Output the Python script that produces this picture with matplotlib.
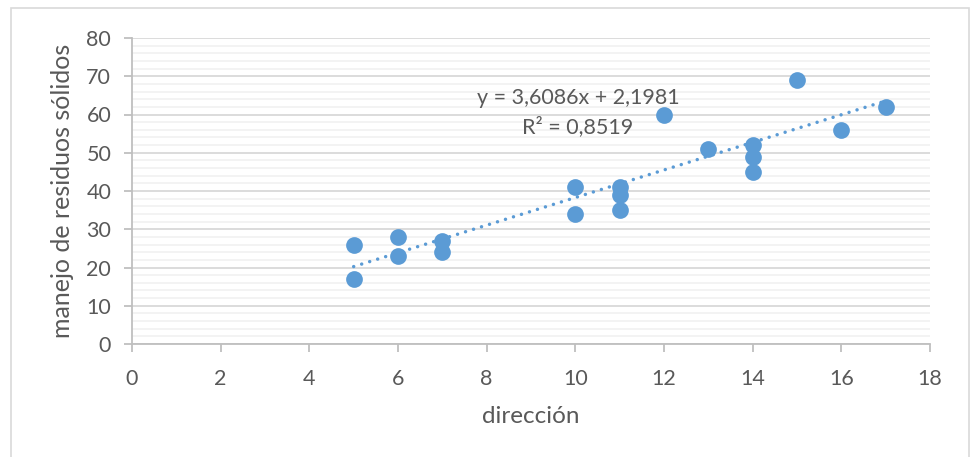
import numpy as np
import matplotlib.pyplot as plt
from matplotlib.patches import Rectangle

# Data
direccion = [5, 5, 6, 6, 7, 7, 10, 10, 11, 11, 11, 12, 13, 14, 14, 14, 15, 16, 17]
residuos = [26, 17, 28, 23, 27, 24, 41, 34, 41, 39, 35, 60, 51, 52, 49, 45, 69, 56, 62]

# Trendline as printed on the chart
slope = 3.6086
intercept = 2.1981
r2 = 0.8519

blue = '#5B9BD5'
grey_txt = '#595959'

plt.rcParams['font.family'] = ['Lato', 'DejaVu Sans']

fig = plt.figure(figsize=(9.71, 4.57), dpi=100)
ax = fig.add_axes([132 / 971, 1 - 344 / 457, 798 / 971, 306 / 457])

# chart border
fig.patches.append(Rectangle((11 / 971, -0.01), 958 / 971, 1 - 8 / 457 + 0.01,
                             transform=fig.transFigure, fill=False,
                             edgecolor='#D9D9D9', linewidth=1.2))

ax.scatter(direccion, residuos, s=145, color=blue, zorder=3, linewidths=0)

xs = np.array([min(direccion), max(direccion)])
ax.plot(xs, slope * xs + intercept, linestyle=(0, (0.01, 2.4)), color=blue,
        linewidth=2.5, zorder=2, dash_capstyle='round')

eq = 'y = {}x + {}\nR² = {}'.format(str(slope).replace('.', ','),
                                    str(intercept).replace('.', ','),
                                    str(r2).replace('.', ','))
ax.text(10.06, 60.5, eq, ha='center', va='center', fontsize=15.5,
        color=grey_txt, linespacing=1.45)

ax.set_xlim(0, 18)
ax.set_ylim(0, 80)
ax.set_xticks(range(0, 19, 2))
ax.set_yticks(range(0, 81, 10))
ax.set_yticks(range(0, 81, 2), minor=True)

ax.grid(axis='y', which='major', color='#D9D9D9', linewidth=1.3, zorder=0)
ax.grid(axis='y', which='minor', color='#F2F2F2', linewidth=1.3, zorder=0)
ax.set_axisbelow(True)

for side in ['top', 'right']:
    ax.spines[side].set_visible(False)
for side in ['left', 'bottom']:
    ax.spines[side].set_color('#BFBFBF')
    ax.spines[side].set_linewidth(1.3)

ax.tick_params(axis='both', which='major', direction='out', length=6,
               color='#BFBFBF', width=1.3, labelsize=15.5, labelcolor=grey_txt)
ax.tick_params(axis='y', which='minor', length=0)
ax.tick_params(axis='x', pad=12)
ax.tick_params(axis='y', pad=9)

ax.set_xlabel('dirección', fontsize=17.5, color=grey_txt, labelpad=12)
ax.set_ylabel('manejo de residuos sólidos', fontsize=18, color=grey_txt, labelpad=9)

fig.savefig('out.png', dpi=100)
